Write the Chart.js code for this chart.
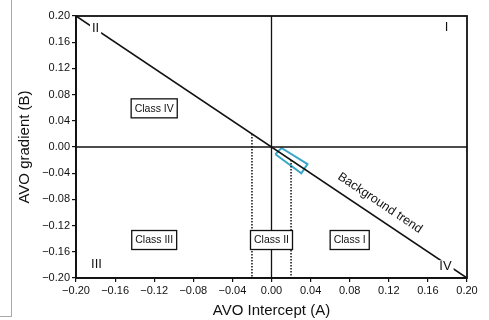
<!DOCTYPE html>
<html><head><meta charset="utf-8">
<script src="https://cdn.jsdelivr.net/npm/chart.js@4.4.1/dist/chart.umd.min.js"></script>
<style>
html,body{margin:0;padding:0;background:#fff;}
#wrap{position:relative;width:489px;height:320px;overflow:hidden;}
#edge{position:absolute;left:0;top:0;width:11px;height:316px;border-right:1.5px solid #a8a8a8;border-bottom:1.5px solid #a8a8a8;}
canvas{position:absolute;left:0;top:0;}
</style></head><body>
<div id="wrap"><canvas id="c" width="489" height="320"></canvas><div id="edge"></div></div>
<script>
// ---- data ----
const tickValues = [-0.20,-0.16,-0.12,-0.08,-0.04,0.00,0.04,0.08,0.12,0.16,0.20];
const trendX = [-0.20, 0.20];
const trendY = [0.20, -0.20];
const zeroHX = [-0.20, 0.20];
const zeroHY = [0, 0];
const zeroVX = [0, 0];
const zeroVY = [0.20, -0.20];
const dotLeftX = [-0.02, -0.02];
const dotLeftY = [0.02, -0.20];
const dotRightX = [0.02, 0.02];
const dotRightY = [-0.02, -0.20];
const boxX = [0.0040, 0.0102, 0.0368, 0.0305, 0.0040];
const boxY = [-0.0110, -0.0015, -0.0262, -0.0402, -0.0110];
const classLabels = ['Class IV', 'Class III', 'Class II', 'Class I'];
const classX = [-0.12, -0.12, 0.0, 0.08];
const classY = [0.059, -0.142, -0.142, -0.142];
const quadLabels = ['I', 'II', 'III', 'IV'];
const quadX = [0.179, -0.180, -0.179, 0.178];
const quadY = [0.182, 0.181, -0.180, -0.183];
const trendLabel = 'Background trend';
const trendLabelX = 0.111;
const trendLabelY = -0.0855;
const xTitle = 'AVO Intercept (A)';
const yTitle = 'AVO gradient (B)';

const pts = (xs, ys) => xs.map((x, i) => ({x, y: ys[i]}));
const fmt = v => Math.abs(v) < 1e-9 ? '0.00' : (v < 0 ? '\u2212' + Math.abs(v).toFixed(2) : v.toFixed(2));
const FONT = "'Liberation Sans', Arial, Helvetica, sans-serif";

const lineDs = (data, opts) => Object.assign({
  data, showLine: true, pointRadius: 0, borderColor: '#111', borderWidth: 1.5, fill: false, tension: 0
}, opts || {});

const annot = {
  id: 'annot',
  afterDatasetsDraw(chart) {
    const {ctx, chartArea: a, scales: {x, y}} = chart;
    ctx.save();
    // frame (top + right)
    ctx.strokeStyle = '#111';
    ctx.lineWidth = 1.8;
    ctx.strokeRect(a.left, a.top, a.right - a.left, a.bottom - a.top);
    // class boxes
    ctx.font = '10.5px ' + FONT;
    ctx.textAlign = 'center';
    ctx.textBaseline = 'middle';
    classLabels.forEach((t, i) => {
      const px = x.getPixelForValue(classX[i]);
      const py = y.getPixelForValue(classY[i]);
      const w = ctx.measureText(t).width + 7;
      const h = 19;
      ctx.fillStyle = '#fff';
      ctx.fillRect(px - w / 2, py - h / 2, w, h);
      ctx.lineWidth = 1.3;
      ctx.strokeStyle = '#111';
      ctx.strokeRect(px - w / 2, py - h / 2, w, h);
      ctx.fillStyle = '#111';
      ctx.fillText(t, px, py + 0.5);
    });
    // quadrant numerals
    ctx.font = '13px ' + FONT;
    quadLabels.forEach((t, i) => {
      const px = x.getPixelForValue(quadX[i]);
      const py = y.getPixelForValue(quadY[i]);
      const w = ctx.measureText(t).width + 4;
      ctx.fillStyle = '#fff';
      ctx.fillRect(px - w / 2, py - 6.5, w, 13);
      ctx.fillStyle = '#111';
      ctx.fillText(t, px, py);
    });
    // trend label
    const ang = Math.atan2(y.getPixelForValue(trendY[1]) - y.getPixelForValue(trendY[0]),
                           x.getPixelForValue(trendX[1]) - x.getPixelForValue(trendX[0]));
    ctx.translate(x.getPixelForValue(trendLabelX), y.getPixelForValue(trendLabelY));
    ctx.rotate(ang);
    ctx.font = '12.5px ' + FONT;
    ctx.fillStyle = '#111';
    ctx.fillText(trendLabel, 0, 0);
    ctx.restore();
  }
};

const axisCommon = (title, titlePad) => ({
  type: 'linear', min: -0.20, max: 0.20,
  afterBuildTicks: s => { s.ticks = tickValues.map(v => ({value: v})); },
  ticks: {
    callback: v => fmt(v), color: '#111', padding: 2, autoSkip: false, maxRotation: 0,
    font: {family: FONT, size: 11}
  },
  grid: {display: true, drawOnChartArea: false, drawTicks: true, tickLength: 4, color: '#111', lineWidth: 1.2},
  border: {display: true, color: '#111', width: 1.8},
  title: {display: true, text: title, color: '#111', font: {family: FONT, size: 15, lineHeight: 1.2}, padding: titlePad}
});

const xAxis = axisCommon(xTitle, {top: 0, bottom: 0});
xAxis.afterFit = s => { s.height = 42; };
const yAxis = axisCommon(yTitle, {top: 16, bottom: 0});
yAxis.afterFit = s => { s.width = 76; };

new Chart(document.getElementById('c'), {
  type: 'scatter',
  data: {
    datasets: [
      lineDs(pts(zeroHX, zeroHY), {borderWidth: 1.3}),
      lineDs(pts(zeroVX, zeroVY), {borderWidth: 1.3}),
      lineDs(pts(dotLeftX, dotLeftY), {borderWidth: 1.5, borderDash: [1.5, 1.5]}),
      lineDs(pts(dotRightX, dotRightY), {borderWidth: 1.5, borderDash: [1.5, 1.5]}),
      lineDs(pts(trendX, trendY), {borderWidth: 1.6}),
      lineDs(pts(boxX, boxY), {borderColor: '#3aa7c8', borderWidth: 2})
    ]
  },
  options: {
    responsive: false, animation: false, devicePixelRatio: 1,
    layout: {padding: {top: 16, right: 22, left: 0, bottom: 0}},
    plugins: {legend: {display: false}, tooltip: {enabled: false}},
    scales: {x: xAxis, y: yAxis}
  },
  plugins: [annot]
});
</script>
</body></html>
